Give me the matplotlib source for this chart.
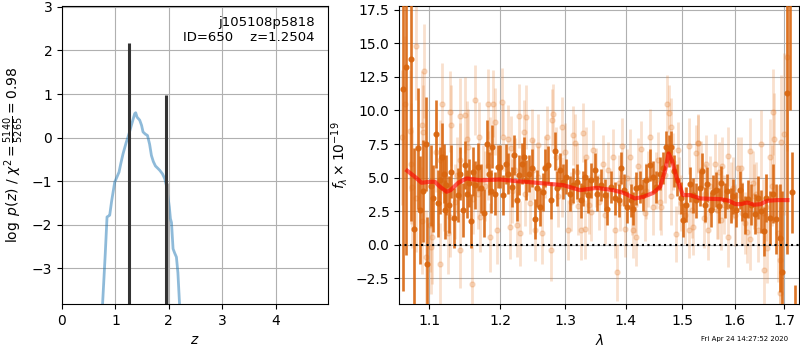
import numpy as np
import matplotlib
matplotlib.use('Agg')
from matplotlib import pyplot as plt
from matplotlib.ticker import FixedLocator, FormatStrFormatter, NullLocator

# p(z) curve (left panel)
pz_z = [0.756, 0.81, 0.843, 0.87, 0.893, 0.93, 0.987, 1.03, 1.068, 1.10, 1.143, 1.20,
        1.255, 1.31, 1.361, 1.38, 1.405, 1.455, 1.49, 1.517, 1.56, 1.60, 1.64, 1.674,
        1.71, 1.749, 1.79, 1.83, 1.88, 1.923, 1.955, 1.985, 2.01, 2.03, 2.05, 2.079,
        2.11, 2.142, 2.17, 2.204]
pz_logp = [-3.9, -2.66, -1.82, -1.80, -1.78, -1.45, -1.02, -0.90, -0.79, -0.60, -0.37, -0.12,
           0.09, 0.33, 0.55, 0.57, 0.47, 0.40, 0.28, 0.13, 0.08, 0.05, -0.15, -0.41,
           -0.55, -0.65, -0.70, -0.75, -0.83, -0.94, -1.10, -1.36, -1.60, -1.86, -1.95, -2.55,
           -2.65, -2.74, -3.10, -3.9]

# narrow peaks of the fine redshift grid
peak_z = [1.2504, 1.945]
peak_logp = [2.18, 0.97]
side_z = [1.968]
side_logp = [-1.05]

# binned spectrum (dark) and unbinned spectrum (light)
dark_wave = [1.0654, 1.0697, 1.0763, 1.0799, 1.0843, 1.0875, 1.0915, 1.0955, 1.0976, 1.1030,
             1.1053, 1.1085, 1.1121, 1.1145, 1.1167, 1.1199, 1.1213, 1.1235, 1.1270, 1.1304,
             1.1342, 1.1388, 1.1421, 1.1468, 1.1500, 1.1515, 1.1550, 1.1576, 1.1613, 1.1642,
             1.1681, 1.1719, 1.1768, 1.1801, 1.1835, 1.1860, 1.1887, 1.1922, 1.1961,
             1.1996, 1.2045, 1.2079, 1.2119, 1.2168, 1.2208, 1.2243, 1.2279, 1.2318, 1.2359,
             1.2393, 1.2430, 1.2470, 1.2531, 1.2561, 1.2608, 1.2649, 1.2685, 1.2727, 1.2778,
             1.2832, 1.2873, 1.2910, 1.2962, 1.3015, 1.3070, 1.3122, 1.3192, 1.3247, 1.3284,
             1.3321, 1.3365, 1.3420, 1.3475, 1.3519,
             1.3585, 1.3642, 1.3686, 1.3753, 1.3809, 1.3878, 1.3923, 1.3969, 1.4025, 1.4084,
             1.4124, 1.4182, 1.4240, 1.4298, 1.4356, 1.4417, 1.4475, 1.4534, 1.4594, 1.4654,
             1.4713, 1.4757, 1.4804, 1.4853, 1.4913, 1.4976, 1.5018, 1.5079, 1.5141, 1.5204,
             1.5264,
             1.5328, 1.5371, 1.5422, 1.5471, 1.5536, 1.5579, 1.5643, 1.5688, 1.5739, 1.5805,
             1.5855, 1.5920, 1.5965, 1.6030, 1.6098, 1.6150, 1.6208, 1.6263, 1.6328, 1.6397,
             1.6462, 1.6516, 1.6584, 1.6631, 1.6701, 1.6768, 1.6837, 1.6906, 1.6954, 1.7065,
             1.7125, 1.7166, 1.7225]
dark_flux = [11.6, 13.25, 13.8, 1.2, 7.2, 2.6, 4.0, 7.5, -1.4, 4.4,
             3.45, 8.25, 3.1, 4.8, 6.55, 5.3, 2.6, 4.45, 3.0, 5.45,
             2.0, 3.7, 5.3, 2.6, 5.95, 3.8, 4.6, 1.8, 5.45, 4.45,
             5.8, 4.2, 2.35, 7.5, 5.3, 4.0, 7.3, 3.8, 5.8,
             5.8, 3.7, 6.0, 5.3, 4.3, 6.7, 3.3, 5.2, 6.05, 6.55,
             4.8, 5.3, 5.7, 1.9, 4.2, 2.8, 3.95, 5.7, 5.95, 3.3,
             7.0, 4.2, 5.55, 4.7, 5.05, 3.8, 4.45, 4.7, 3.3, 4.2,
             5.05, 3.7, 4.8, 5.55, 3.8,
             4.45, 3.7, 2.7, 4.3, 3.45, 3.3, 5.7, 4.07, 2.8, 3.3,
             2.7, 4.2, 4.3, 3.7, 4.8, 5.95, 5.05, 4.3, 5.3, 5.7,
             7.3, 7.0, 7.3, 5.5, 4.8, 3.5, 1.85, 3.0, 4.5, 3.7,
             3.3,
             4.2, 5.5, 3.0, 4.5, 2.6, 3.9, 4.1, 2.9, 4.6, 3.3,
             4.0, 2.9, 3.6, 2.6, 4.1, 3.2, 2.2, 3.4, 3.0, 2.3,
             3.5, 2.5, 1.0, 3.5, 2.0, 3.8, 1.9, 0.5, -2.0, 11.3,
             19.0, 3.9, -8.0]
dark_err = [15.0, 14.0, 12.0, 6.0, 4.5, 4.0, 3.8, 3.5, 3.5, 3.0,
            2.5, 2.5, 2.5, 2.5, 2.5, 2.2, 2.2, 2.2, 2.1, 2.0,
            2.2, 2.0, 2.0, 2.0, 1.8, 1.8, 1.8, 2.0, 1.8, 1.8,
            1.8, 1.8, 1.8, 1.8, 1.6, 1.6, 1.6, 1.6, 1.6,
            1.6, 1.5, 1.5, 1.5, 1.5, 1.5, 1.5, 1.5, 1.5, 1.5,
            1.5, 1.4, 1.4, 1.5, 1.4, 1.4, 1.4, 1.4, 1.4, 1.4,
            1.4, 1.3, 1.3, 1.3, 1.3, 1.3, 1.3, 1.3, 1.3, 1.3,
            1.3, 1.3, 1.3, 1.3, 1.3,
            1.2, 1.2, 1.2, 1.2, 1.2, 1.2, 1.2, 1.2, 1.2, 1.2,
            1.2, 1.2, 1.2, 1.2, 1.2, 1.2, 1.2, 1.2, 1.2, 1.2,
            1.2, 1.2, 1.2, 1.2, 1.2, 1.2, 1.3, 1.3, 1.3, 1.3,
            1.3,
            1.3, 1.3, 1.3, 1.3, 1.3, 1.3, 1.3, 1.3, 1.3, 1.3,
            1.3, 1.3, 1.3, 1.3, 1.4, 1.4, 1.4, 1.4, 1.5, 1.5,
            1.6, 1.6, 1.8, 1.8, 2.0, 2.2, 2.6, 4.0, 6.0, 12.0,
            9.0, 3.0, 5.0]

light_wave = [1.0640, 1.0680, 1.0746, 1.0752, 1.0776, 1.0820, 1.0829, 1.0896, 1.0900, 1.0910,
              1.0932, 1.0950, 1.1010, 1.1030, 1.1040, 1.1090, 1.1145, 1.1145, 1.1167, 1.1200,
              1.1250, 1.1280, 1.1282, 1.1304, 1.1350, 1.1420, 1.1420, 1.1420, 1.1500, 1.1515,
              1.1540, 1.1586, 1.1633, 1.1680, 1.1690, 1.1700, 1.1750, 1.1816, 1.1820, 1.1850,
              1.1850, 1.1900, 1.1920, 1.1960,
              1.2020, 1.2045, 1.2110, 1.2144, 1.2155, 1.2220, 1.2243, 1.2279, 1.2297, 1.2348,
              1.2373, 1.2393, 1.2440, 1.2482, 1.2520, 1.2570, 1.2570, 1.2634, 1.2675, 1.2716,
              1.2766, 1.2795, 1.2810, 1.2858, 1.2940, 1.2952, 1.2990, 1.3040, 1.3090, 1.3122,
              1.3150, 1.3200, 1.3247, 1.3284, 1.3320, 1.3338, 1.3380, 1.3420, 1.3448, 1.3500,
              1.3610, 1.3650, 1.3700, 1.3780, 1.3810, 1.3855, 1.3900, 1.3930, 1.3980, 1.4020,
              1.4065, 1.4124, 1.4150, 1.4180, 1.4210, 1.4270, 1.4330, 1.4380, 1.4427, 1.4475,
              1.4520, 1.4564, 1.4620, 1.4680, 1.4728, 1.4757, 1.4790, 1.4790, 1.4840, 1.4884,
              1.4930, 1.4976, 1.5050, 1.5120, 1.5130, 1.5200, 1.5260, 1.5290,
              1.5298, 1.5360, 1.5400, 1.5450, 1.5480, 1.5520, 1.5611, 1.5650, 1.5700, 1.5740,
              1.5750, 1.5800, 1.5860, 1.5866, 1.5965, 1.6000, 1.6060, 1.6130, 1.6200, 1.6250,
              1.6295, 1.6300, 1.6360, 1.6425, 1.6470, 1.6525, 1.6560, 1.6592, 1.6645, 1.6701,
              1.6740, 1.6768, 1.6790, 1.6870, 1.6906, 1.6920, 1.6940, 1.6990, 1.7065,
              1.1380, 1.1600, 1.1780, 1.2180, 1.2500, 1.2880, 1.3180, 1.3550, 1.3880, 1.4100,
              1.4350, 1.4600, 1.4950, 1.5180, 1.5420, 1.5680, 1.5920, 1.6150, 1.6380, 1.6620]
light_flux = [8.0, 10.5, 8.5, 6.05, 4.3, 3.45, 14.8, 8.9, 1.8, 8.4,
              12.9, -0.9, 1.5, -0.15, 0.6, 6.9, -1.4, 6.3, 10.5, 4.0,
              0.85, 2.1, 9.9, 8.9, 3.2, -0.4, 9.6, 6.3, 9.65, 7.87,
              7.3, -2.9, 10.8, 3.8, 8.0, 2.1, 4.8, 10.5, 5.9, 6.9,
              0.55, 10.5, 9.15, 1.1,
              10.65, 8.0, 7.9, 1.35, 7.2, 5.55, 1.5, 9.6, 0.85, 8.4,
              3.8, 9.5, 3.1, 7.8, 1.1, 7.4, 5.05, 0.85, 5.8, 8.0,
              -0.4, 9.3, 9.7, 6.55, 4.3, 8.8, 6.9, 1.1, 3.2, 8.15,
              7.55, 2.9, 1.1, 8.35, 1.15, 6.55, 3.0, 2.45, 7.05, 5.0,
              6.05, 2.2, 5.55, 6.55, 1.1, -2.05, 3.1, 7.35, 1.2, 5.0,
              6.55, 1.1, 3.0, 0.55, 5.85, 7.1, 2.35, 4.9, 8.0, 2.85,
              4.8, 6.3, 2.85, 5.2, 10.5, 9.8, 8.8, 3.6, 6.2, 0.8,
              7.05, 3.1, 2.2, 1.1, 7.35, 1.35, 6.8, 7.55,
              7.55, 5.55, 2.0, 6.0, 1.1, 4.4, 6.05, 2.6, 5.45, 1.85,
              5.85, 3.0, 0.55, 6.6, 4.2, 2.2, 5.75, 5.7, 1.6, 0.95,
              0.4, 7.0, 4.6, 3.8, 1.1, 7.5, 2.4, -1.9, -0.25, 6.55,
              4.4, 9.9, 7.9, 0.85, -1.15, -3.6, 7.65, 8.25, 13.95,
              5.2, 3.4, 4.4, 4.0, 5.6, 3.6, 5.4, 3.2, 4.6, 2.8,
              4.0, 3.2, 4.4, 2.6, 3.8, 2.6, 4.0, 2.4, 3.6, 2.8]
light_err = [5.0, 5.0, 4.5, 4.5, 4.5, 4.0, 4.0, 4.0, 4.0, 3.5,
             3.5, 3.5, 3.5, 3.5, 3.5, 3.0, 3.0, 3.0, 3.0, 3.0,
             3.0, 3.0, 3.0, 3.0, 2.8, 2.8, 2.8, 2.8, 2.8, 2.8,
             2.8, 2.8, 2.6, 2.6, 2.6, 2.6, 2.6, 2.6, 2.6, 2.6,
             2.6, 2.5, 2.5, 2.5,
             2.5, 2.5, 2.5, 2.4, 2.4, 2.4, 2.4, 2.4, 2.4, 2.4,
             2.4, 2.4, 2.3, 2.3, 2.3, 2.3, 2.3, 2.3, 2.3, 2.3,
             2.3, 2.3, 2.3, 2.2, 2.2, 2.2, 2.2, 2.2, 2.2, 2.2,
             2.2, 2.2, 2.2, 2.2, 2.2, 2.2, 2.2, 2.2, 2.2, 2.2,
             2.1, 2.1, 2.1, 2.1, 2.1, 2.1, 2.1, 2.1, 2.1, 2.1,
             2.1, 2.1, 2.1, 2.1, 2.1, 2.1, 2.1, 2.1, 2.1, 2.1,
             2.1, 2.1, 2.1, 2.1, 2.1, 2.1, 2.1, 2.1, 2.1, 2.1,
             2.1, 2.1, 2.1, 2.1, 2.1, 2.1, 2.1, 2.1,
             2.2, 2.2, 2.2, 2.2, 2.2, 2.2, 2.2, 2.2, 2.2, 2.2,
             2.2, 2.2, 2.2, 2.2, 2.3, 2.3, 2.3, 2.3, 2.3, 2.3,
             2.3, 2.4, 2.4, 2.4, 2.4, 2.5, 2.5, 2.6, 2.6, 2.8,
             3.0, 3.2, 3.4, 3.6, 4.0, 4.5, 5.0, 6.0, 7.0,
             2.8, 2.6, 2.6, 2.4, 2.3, 2.3, 2.2, 2.1, 2.1, 2.1,
             2.1, 2.1, 2.1, 2.1, 2.2, 2.2, 2.2, 2.3, 2.4, 2.5]

# best-fit model
model_wave = [1.0707, 1.0808, 1.0897, 1.1009, 1.1077, 1.1145, 1.1237, 1.1292, 1.1399, 1.1516,
              1.1706, 1.1997, 1.2245, 1.2548, 1.2967, 1.3234, 1.3508, 1.3787, 1.3958, 1.4158,
              1.4304, 1.4480, 1.4601, 1.4692, 1.4752, 1.4812, 1.4904, 1.5014, 1.5150, 1.5337,
              1.5723, 1.5886, 1.6017, 1.6115, 1.6248, 1.6382, 1.6516, 1.6652, 1.6859, 1.7068]
model_flux = [5.51, 5.06, 4.62, 4.69, 4.69, 4.32, 3.95, 4.07, 4.62, 4.94,
              4.81, 4.86, 4.74, 4.62, 4.44, 4.07, 4.24, 4.07, 3.87, 3.45,
              3.57, 3.87, 4.32, 5.56, 6.80, 6.30, 4.94, 3.70, 3.70, 3.45,
              3.40, 3.28, 3.03, 3.03, 3.15, 2.98, 3.03, 3.28, 3.33, 3.33]

xticks = [1.1, 1.2, 1.3, 1.4, 1.5, 1.6, 1.7]

fig = plt.figure(figsize=(8, 3.5), dpi=100)

# left panel: p(z)
ax = fig.add_axes([0.0775, 0.131, 0.3325, 0.852])
ax.plot(pz_z, pz_logp, color='tab:blue', alpha=0.5, lw=2)
ymin = -3.82
ax.vlines(side_z, ymin, side_logp, color='0.7', lw=2.5)
ax.vlines(peak_z, ymin, peak_logp, color='0.2', lw=2.2)
ax.set_xlim(0, 4.98)
ax.set_ylim(ymin, 3.02)
ax.set_xticks([0, 1, 2, 3, 4])
ax.set_yticks([-3, -2, -1, 0, 1, 2, 3])
ax.grid()
ax.set_axisbelow(True)
ax.set_xlabel(r'$z$')
ax.set_ylabel(r'$\log\ p(z)$ / $\chi^2=\frac{5140}{5265}=0.98$')
ax.text(0.95, 0.965, 'j105108p5818\nID=650    z=1.2504', transform=ax.transAxes,
        ha='right', va='top', fontsize=9.5)

# right panel: spectrum
ax2 = fig.add_axes([0.499, 0.131, 0.5, 0.852])
ax2.errorbar(light_wave, light_flux, yerr=light_err, fmt='o', color='#e8853a',
             alpha=0.25, ms=3.6, elinewidth=2.0, zorder=2)
ax2.errorbar(dark_wave, dark_flux, yerr=dark_err, fmt='o', color='#d9660f',
             alpha=0.9, ms=3.4, elinewidth=1.9, zorder=3)
ax2.plot(model_wave, model_flux, color='r', alpha=0.6, lw=3, zorder=4)
ax2.axhline(0, color='k', linestyle=':', lw=1.5, zorder=5)
ax2.set_xscale('log')
ax2.set_xlim(1.0602, 1.7316)
ax2.set_ylim(-4.41, 17.77)
ax2.xaxis.set_major_locator(FixedLocator(xticks))
ax2.xaxis.set_major_formatter(FormatStrFormatter('%.1f'))
ax2.xaxis.set_minor_locator(NullLocator())
ax2.set_yticks([-2.5, 0, 2.5, 5, 7.5, 10, 12.5, 15, 17.5])
ax2.grid()
ax2.set_axisbelow(True)
ax2.set_xlabel(r'$\lambda$')
ax2.set_ylabel(r'$f_\lambda\times10^{-19}$')

fig.text(0.985, 0.022, 'Fri Apr 24 14:27:52 2020', ha='right', va='bottom', fontsize=5)

fig.savefig('out.png', dpi=100)
